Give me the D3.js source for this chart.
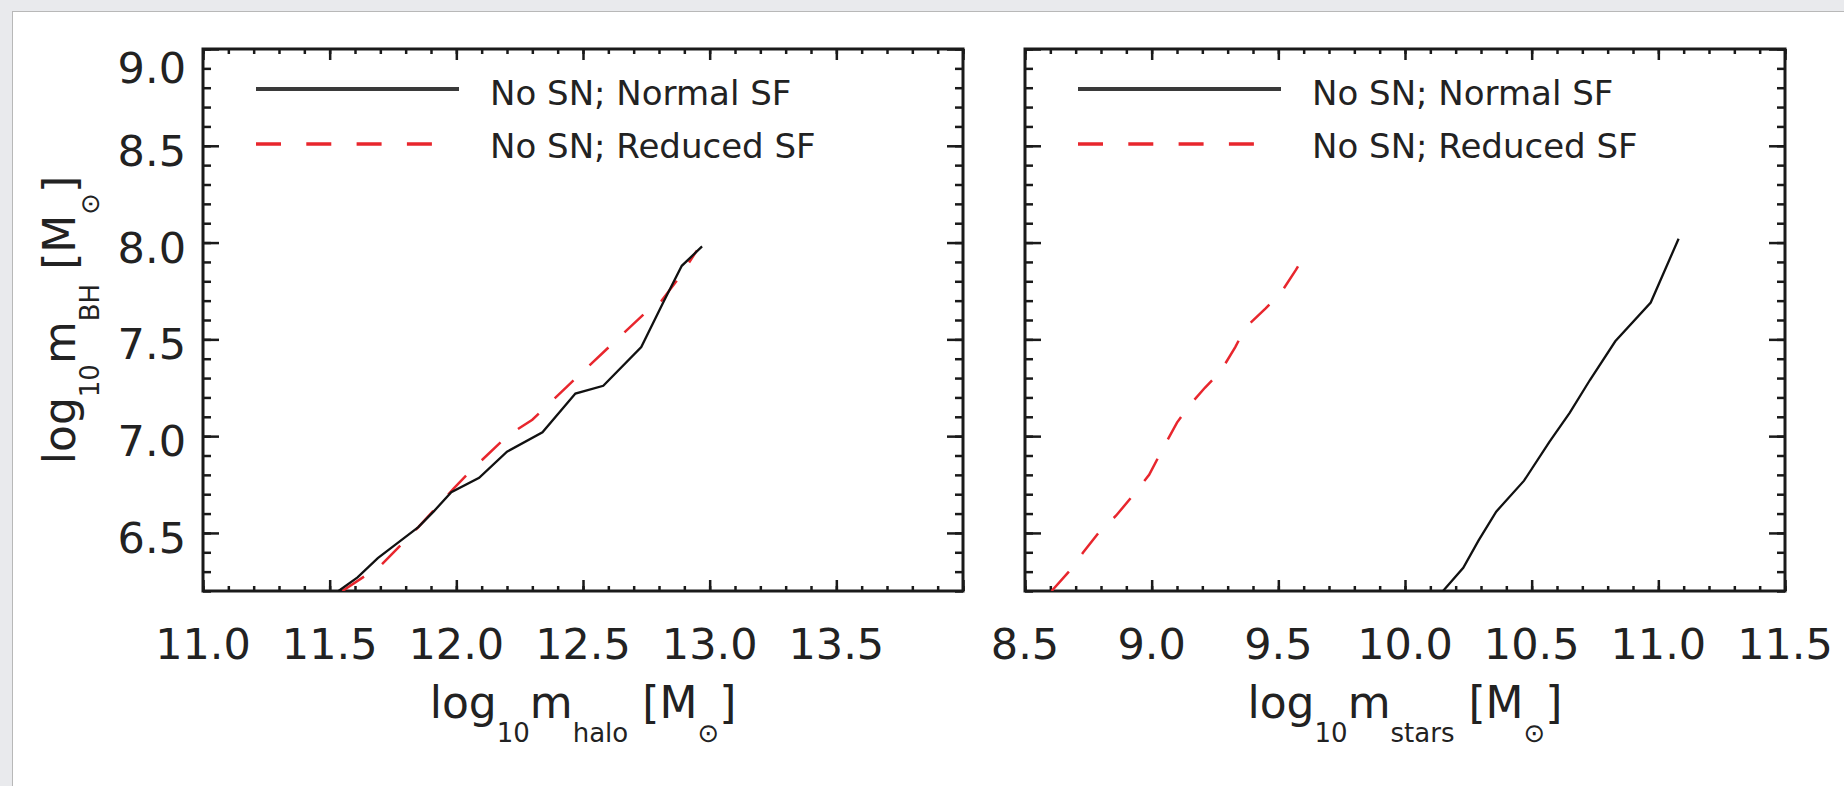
<!DOCTYPE html>
<html>
<head>
<meta charset="utf-8">
<script src="https://cdn.jsdelivr.net/npm/d3@7"></script>
<style>
    body { margin: 0; background: #e9eaed; }
    svg { display: block; font-family: "DejaVu Sans", sans-serif; }
</style>
</head>
<body>
<svg id="chart"></svg>
<script>
const width = 1844; // page size
const height = 786;

// curves: [log10 m, log10 mBH]
const haloNormal = [[11.535, 6.2], [11.61, 6.27], [11.69, 6.37], [11.77, 6.45], [11.85, 6.53], [11.91, 6.61],
    [11.98, 6.71], [12.09, 6.785], [12.2, 6.92], [12.34, 7.02], [12.47, 7.22], [12.58, 7.26],
    [12.73, 7.46], [12.82, 7.70], [12.89, 7.88], [12.97, 7.98]];
const haloReduced = [[11.55, 6.2], [11.7, 6.33], [11.85, 6.53], [11.99, 6.73], [12.06, 6.825], [12.2, 7.0],
    [12.3, 7.085], [12.44, 7.26], [12.59, 7.445], [12.74, 7.63], [12.81, 7.70], [12.88, 7.82], [12.95, 7.96]];
const starsNormal = [[10.15, 6.2], [10.23, 6.32], [10.29, 6.46], [10.36, 6.61], [10.47, 6.77], [10.57, 6.97],
    [10.65, 7.12], [10.73, 7.29], [10.83, 7.49], [10.97, 7.69], [11.08, 8.02]];
const starsReduced = [[8.605, 6.2], [8.68, 6.31], [8.73, 6.40], [8.79, 6.5], [8.86, 6.59], [8.93, 6.70],
    [8.99, 6.80], [9.05, 6.95], [9.1, 7.07], [9.15, 7.16], [9.21, 7.25], [9.27, 7.33], [9.33, 7.46],
    [9.37, 7.56], [9.45, 7.66], [9.51, 7.74], [9.57, 7.86], [9.62, 7.97]];

const yTickLabels = [6.5, 7.0, 7.5, 8.0, 8.5, 9.0];
const haloTickLabels = [11.0, 11.5, 12.0, 12.5, 13.0, 13.5];
const starsTickLabels = [8.5, 9.0, 9.5, 10.0, 10.5, 11.0, 11.5];
const legendLabels = ["No SN; Normal SF", "No SN; Reduced SF"];

const plotTop = 49, plotBottom = 591, plotW = 760;
const ink = "#1a1a1a", red = "#e8262d";

const svg = d3.select("#chart")
    .attr("width", width)
    .attr("height", height);

// white card on grey page
svg.append("rect")
    .attr("x", 12.5).attr("y", 11.5)
    .attr("width", 1900).attr("height", 900)
    .attr("fill", "white")
    .attr("stroke", "#b8b8b8");

const y = d3.scaleLinear().domain([6.2, 9.0]).range([plotBottom, plotTop]);
const yMinor = d3.range(62, 91).map(d => d / 10);
const yMajor = d3.range(13, 19).map(d => d / 2);

const panels = [
    { left: 203, domain: [11, 14], labels: haloTickLabels, sub: "halo", normal: haloNormal, reduced: haloReduced, yLabels: true },
    { left: 1025, domain: [8.5, 11.5], labels: starsTickLabels, sub: "stars", normal: starsNormal, reduced: starsReduced, yLabels: false }
];

function styleAxis(g) {
    g.select(".domain").remove();
    g.selectAll("text").remove();
    g.selectAll("line").attr("stroke", ink).attr("stroke-width", 2.5);
}

// subscripted label: log_10 m_sub [M_sun]
function massLabel(text, sub) {
    const parts = [["log", 0], ["10", 1], ["m", 0], [sub, 1], [" [M", 0], ["\u2299", 1], ["]", 0]];
    let level = 0;
    parts.forEach(([t, s]) => {
        text.append("tspan")
            .attr("font-size", s ? 26 : 44)
            .attr("dy", (s - level) * 24)
            .text(t);
        level = s;
    });
}

panels.forEach((p, i) => {
    const right = p.left + plotW;
    const x = d3.scaleLinear().domain(p.domain).range([p.left, right]);
    const xMinor = d3.range(p.domain[0] * 10, p.domain[1] * 10 + 0.5).map(d => d / 10);
    const xMajor = d3.range(p.domain[0] * 2, p.domain[1] * 2 + 0.5).map(d => d / 2);
    const g = svg.append("g");

    const clipId = `clip-${i}`;
    svg.append("clipPath").attr("id", clipId)
        .append("rect")
        .attr("x", p.left).attr("y", plotTop)
        .attr("width", plotW).attr("height", plotBottom - plotTop);

    // inward ticks on all four sides
    [[xMinor, 5], [xMajor, 11]].forEach(([vals, len]) => {
        g.append("g").attr("transform", `translate(0,${plotBottom})`)
            .call(d3.axisBottom(x).tickValues(vals).tickSize(-len).tickFormat("")).call(styleAxis);
        g.append("g").attr("transform", `translate(0,${plotTop})`)
            .call(d3.axisTop(x).tickValues(vals).tickSize(-len).tickFormat("")).call(styleAxis);
    });
    [[yMinor, 8], [yMajor, 16]].forEach(([vals, len]) => {
        g.append("g").attr("transform", `translate(${p.left},0)`)
            .call(d3.axisLeft(y).tickValues(vals).tickSize(-len).tickFormat("")).call(styleAxis);
        g.append("g").attr("transform", `translate(${right},0)`)
            .call(d3.axisRight(y).tickValues(vals).tickSize(-len).tickFormat("")).call(styleAxis);
    });

    g.append("rect")
        .attr("x", p.left).attr("y", plotTop)
        .attr("width", plotW).attr("height", plotBottom - plotTop)
        .attr("fill", "none")
        .attr("stroke", ink)
        .attr("stroke-width", 3);

    // curves
    const line = d3.line().x(d => x(d[0])).y(d => y(d[1]));
    g.append("path")
        .datum(p.reduced)
        .attr("d", line)
        .attr("clip-path", `url(#${clipId})`)
        .attr("fill", "none")
        .attr("stroke", red)
        .attr("stroke-width", 2.5)
        .attr("stroke-dasharray", "26,22");
    g.append("path")
        .datum(p.normal)
        .attr("d", line)
        .attr("clip-path", `url(#${clipId})`)
        .attr("fill", "none")
        .attr("stroke", "#111")
        .attr("stroke-width", 2.3);

    // x tick labels
    g.selectAll(".xlab")
        .data(p.labels)
        .join("text")
        .attr("class", "xlab")
        .attr("x", d => x(d))
        .attr("y", plotBottom + 68)
        .attr("text-anchor", "middle")
        .attr("font-size", 43)
        .attr("fill", "#222")
        .text(d => d.toFixed(1));

    if (p.yLabels) {
        g.selectAll(".ylab")
            .data(yTickLabels)
            .join("text")
            .attr("class", "ylab")
            .attr("x", p.left - 17)
            .attr("y", d => Math.max(y(d) + 20, plotTop + 34))
            .attr("text-anchor", "end")
            .attr("font-size", 43)
            .attr("fill", "#222")
            .text(d => d.toFixed(1));

        const yt = g.append("text")
            .attr("transform", `translate(75,${(plotTop + plotBottom) / 2}) rotate(-90)`)
            .attr("text-anchor", "middle")
            .attr("fill", "#222");
        massLabel(yt, "BH");
    }

    const xt = g.append("text")
        .attr("x", (p.left + right) / 2)
        .attr("y", 718)
        .attr("text-anchor", "middle")
        .attr("fill", "#222");
    massLabel(xt, p.sub);

    // legend
    const legend = g.append("g").attr("transform", `translate(${p.left},0)`);
    legend.append("line")
        .attr("x1", 53).attr("x2", 256)
        .attr("y1", 89).attr("y2", 89)
        .attr("stroke", "#3a3a3a")
        .attr("stroke-width", 4);
    legend.append("line")
        .attr("x1", 53).attr("x2", 230)
        .attr("y1", 144).attr("y2", 144)
        .attr("stroke", red)
        .attr("stroke-width", 3.5)
        .attr("stroke-dasharray", "25,25.3");
    legend.selectAll(".leg")
        .data(legendLabels)
        .join("text")
        .attr("class", "leg")
        .attr("x", 287)
        .attr("y", (d, k) => 105 + k * 53)
        .attr("font-size", 34)
        .attr("fill", "#222")
        .text(d => d);
});
</script>
</body>
</html>
